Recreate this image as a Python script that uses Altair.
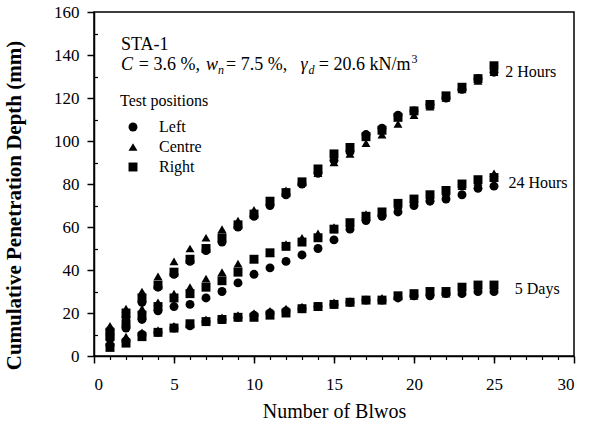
import altair as alt
import pandas as pd

# ---------------- data ----------------
blows = list(range(1, 26))
positions = ["Left", "Centre", "Right"]
times = ["2 Hours", "24 Hours", "5 Days"]

h2_left    = [12, 18, 25, 32, 38, 44, 49, 53, 60, 65, 70, 75, 80, 85, 91, 95, 103, 106, 112, 114, 117, 120, 124, 129, 132]
h2_centre  = [14, 22, 30, 37, 44, 50, 55, 59, 63, 68, 72, 77, 81, 85, 90, 94, 99, 103, 108, 112, 116, 120, 124, 128, 132]
h2_right   = [11, 20, 27, 33, 39, 45, 50, 55, 61, 66, 72, 76, 81, 87, 94, 97, 102, 105, 111, 114, 117, 121, 125, 129, 135]

h24_left   = [8, 13, 17, 21, 23, 24, 27, 30, 34, 38, 41, 44, 47, 50, 54, 59, 63, 65, 67, 70, 72, 73, 75, 78, 79]
h24_centre = [10, 16, 22, 25, 29, 32, 36, 39, 43, 45, 48, 52, 55, 57, 60, 62, 66, 67, 70, 73, 74, 76, 79, 81, 85]
h24_right  = [9, 15, 19, 23, 27, 29, 32, 35, 39, 45, 48, 51, 53, 55, 59, 62, 65, 67, 71, 73, 75, 77, 80, 82, 83]

d5_left    = [5, 7, 10, 11, 13, 14, 16, 17, 18, 19, 20, 21, 22, 23, 24, 25, 26, 26, 27, 28, 28, 29, 29, 30, 30]
d5_centre  = [7, 9, 11, 12, 14, 15, 17, 18, 19, 20, 21, 22, 23, 23, 25, 25, 26, 27, 28, 28, 30, 29, 30, 31, 31]
d5_right   = [4, 6, 9, 11, 13, 15, 16, 17, 18, 18, 19, 20, 22, 23, 24, 25, 26, 26, 28, 29, 30, 30, 32, 33, 33]

series = {
    ("2 Hours", "Left"): h2_left, ("2 Hours", "Centre"): h2_centre, ("2 Hours", "Right"): h2_right,
    ("24 Hours", "Left"): h24_left, ("24 Hours", "Centre"): h24_centre, ("24 Hours", "Right"): h24_right,
    ("5 Days", "Left"): d5_left, ("5 Days", "Centre"): d5_centre, ("5 Days", "Right"): d5_right,
}

# series end labels (data units)
label_text = ["2 Hours", "24 Hours", "5 Days"]
label_x = [25.7, 25.9, 26.3]
label_y = [132, 80.5, 31]

# annotation header
header_title = "STA-1"

rows = []
for (t, p), vals in series.items():
    for b, v in zip(blows, vals):
        rows.append({"Blows": b, "Depth": v, "Position": p, "Time": t})
df = pd.DataFrame(rows)
labels_df = pd.DataFrame({"label": label_text, "x": label_x, "y": label_y})

FONT = "Liberation Serif"
xscale = alt.Scale(domain=[0, 30], nice=False, zero=False)
yscale = alt.Scale(domain=[0, 160], nice=False, zero=False)

x_major = alt.Axis(orient="bottom", values=list(range(0, 31, 5)), tickSize=7, labelFontSize=17,
                   labelPadding=13, title="Number of Blwos", titleFontSize=20, titleFontWeight="normal",
                   titlePadding=9, grid=False, domainWidth=1.5, tickWidth=1.5,
                   labelFont=FONT, titleFont=FONT)
y_major = alt.Axis(orient="left", values=list(range(0, 161, 20)), tickSize=7, labelFontSize=17,
                   labelPadding=8, title="Cumulative Penetration Depth (mm)", titleFontSize=21,
                   titleFontWeight="bold", titlePadding=29, titleY=193, grid=False, domainWidth=1.5,
                   tickWidth=1.5, labelFont=FONT, titleFont=FONT)
x_minor = alt.Axis(orient="bottom", values=blows + [26, 27, 28, 29], tickSize=3.5, labels=False,
                   domain=False, title=None, grid=False, tickWidth=1.2)
y_minor = alt.Axis(orient="left", values=list(range(10, 160, 20)), tickSize=3.5, labels=False,
                   domain=False, title=None, grid=False, offset=-3.5, tickWidth=1.2)

points = alt.Chart(df).mark_point(filled=True, size=80, opacity=1, color="black").encode(
    x=alt.X("Blows:Q", scale=xscale, axis=x_major),
    y=alt.Y("Depth:Q", scale=yscale, axis=y_major),
    shape=alt.Shape("Position:N",
                    scale=alt.Scale(domain=positions, range=["circle", "triangle-up", "square"]),
                    legend=alt.Legend(orient="none", legendX=26, legendY=81, title="Test positions",
                                      titleFontSize=16, titleFontWeight="normal", labelFontSize=16,
                                      symbolSize=80, symbolFillColor="black", symbolStrokeColor="black",
                                      symbolOffset=5, labelOffset=18, rowPadding=4, titlePadding=10,
                                      padding=0, titleColor="black", labelColor="black",
                                      titleFont=FONT, labelFont=FONT)),
)

series_labels = alt.Chart(labels_df).mark_text(align="left", baseline="middle", fontSize=16,
                                               color="black", font=FONT).encode(
    x=alt.X("x:Q", scale=xscale, axis=x_minor),
    y=alt.Y("y:Q", scale=yscale, axis=y_minor),
    text="label:N",
)

# header annotation pieces
pieces = pd.DataFrame({
    "text": [header_title, "C", "= 3.6 %,", "w", "n", "= 7.5 %,", "γ", "d", "= 20.6 kN/m", "3"],
    "x":    [1.69, 1.69, 2.8, 7.0, 7.75, 8.25, 12.9, 13.4, 14.05, 19.85],
    "y":    [144.7, 135.3, 135.3, 135.3, 133.0, 135.3, 135.3, 133.0, 135.3, 138.3],
    "kind": ["n", "i", "n", "i", "is", "n", "i", "is", "n", "s"],
})

def piece_layer(kind, size, style):
    return alt.Chart(pieces[pieces.kind == kind]).mark_text(
        align="left", baseline="middle", fontSize=size, fontStyle=style, color="black", font=FONT
    ).encode(
        x=alt.X("x:Q", scale=xscale, axis=None),
        y=alt.Y("y:Q", scale=yscale, axis=None),
        text="text:N",
    )

ann = (piece_layer("n", 18, "normal") + piece_layer("i", 18, "italic")
       + piece_layer("is", 12, "italic") + piece_layer("s", 12, "normal"))

chart = alt.layer(points, series_labels, ann).resolve_axis(
    x="independent", y="independent"
).properties(
    width=480, height=344,
    autosize=alt.AutoSizeParams(type="none"),
    padding={"left": 94, "top": 12, "right": 21, "bottom": 75},
).configure(font=FONT).configure_view(
    stroke="black", strokeWidth=1.5
).configure_axis(
    labelColor="black", titleColor="black", tickColor="black", domainColor="black", labelFont=FONT,
    titleFont=FONT
).configure_legend(labelFont=FONT, titleFont=FONT)

chart.save("out.html", embed_options={"renderer": "svg", "actions": False})
